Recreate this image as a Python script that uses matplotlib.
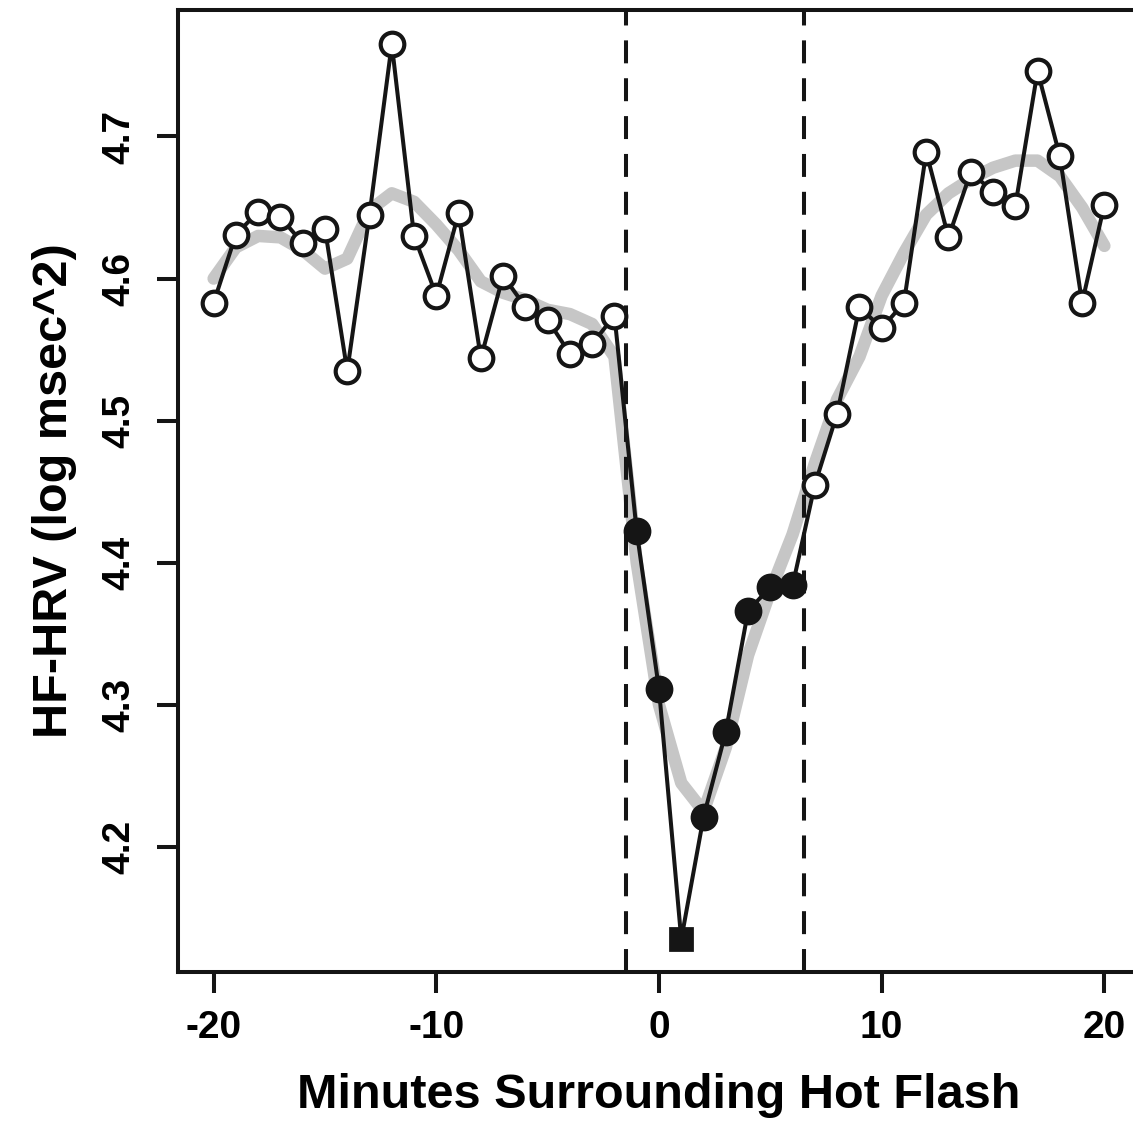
import matplotlib
matplotlib.use("Agg")
import matplotlib.pyplot as plt

# minutes around the hot flash onset
minutes = list(range(-20, 21))

# mean HF-HRV per minute
hrv = [4.583, 4.631, 4.647, 4.643, 4.625, 4.635, 4.535, 4.645, 4.765, 4.630,
       4.588, 4.646, 4.544, 4.602, 4.580, 4.571, 4.547, 4.554, 4.574, 4.422,
       4.311, 4.135, 4.221, 4.281, 4.366, 4.383, 4.384, 4.455, 4.505, 4.580,
       4.565, 4.583, 4.689, 4.629, 4.675, 4.661, 4.651, 4.746, 4.686, 4.583,
       4.652]

# smoothed trend (grey)
smooth = [4.600, 4.622, 4.630, 4.629, 4.620, 4.607, 4.614, 4.648, 4.660, 4.654,
          4.638, 4.620, 4.598, 4.590, 4.585, 4.578, 4.575, 4.568, 4.545, 4.400,
          4.300, 4.245, 4.225, 4.270, 4.335, 4.380, 4.420, 4.470, 4.515, 4.545,
          4.588, 4.618, 4.645, 4.660, 4.670, 4.678, 4.683, 4.683, 4.672, 4.650,
          4.623]

# hot flash window (filled points)
flash_start = -1
flash_end = 6
window_lines = [-1.5, 6.5]

x_ticks = [-20, -10, 0, 10, 20]
y_ticks = [4.2, 4.3, 4.4, 4.5, 4.6, 4.7]

plt.rcParams['font.family'] = ['Liberation Sans', 'DejaVu Sans']
plt.rcParams['font.weight'] = 'bold'

W, H = 1133, 1136
fig = plt.figure(figsize=(W / 100, H / 100), dpi=100)
ax = fig.add_axes([178 / W, (H - 972) / H, (1140 - 178) / W, (972 - 10) / H])

ink = '#151515'

ax.plot(minutes, smooth, color='#c6c6c6', lw=9, solid_capstyle='round',
        solid_joinstyle='round', zorder=1)

for v in window_lines:
    ax.axvline(v, color=ink, lw=2.9, dashes=(5.7, 3.7), zorder=2)

ax.plot(minutes, hrv, color=ink, lw=2.9, zorder=3)

inside = [i for i, m in enumerate(minutes) if flash_start <= m <= flash_end]
outside = [i for i, m in enumerate(minutes) if not (flash_start <= m <= flash_end)]
lowest = min(inside, key=lambda i: hrv[i])

ax.plot([minutes[i] for i in outside], [hrv[i] for i in outside], 'o', ls='none',
        ms=17, mfc='white', mec=ink, mew=3, zorder=4)
filled = [i for i in inside if i != lowest]
ax.plot([minutes[i] for i in filled], [hrv[i] for i in filled], 'o', ls='none',
        ms=18, mfc=ink, mec=ink, mew=2, zorder=4)
ax.plot([minutes[lowest]], [hrv[lowest]], 's', ls='none',
        ms=16, mfc=ink, mec=ink, mew=2, zorder=4)

ax.set_xlim(-21.6, 21.6)
ax.set_ylim(4.112, 4.789)
ax.set_xticks(x_ticks)
ax.set_xticklabels([str(t) for t in x_ticks])
ax.set_yticks(y_ticks)
ax.set_yticklabels([f'{t:.1f}' for t in y_ticks])

for s in ax.spines.values():
    s.set_linewidth(2.9)
    s.set_color(ink)

ax.tick_params(axis='both', length=15, width=2.9, color=ink, labelsize=28)
ax.tick_params(axis='x', pad=12)
ax.tick_params(axis='y', pad=14, labelrotation=90)
for lbl in ax.get_yticklabels():
    lbl.set_va('center')

ax.set_xlabel('Minutes Surrounding Hot Flash', fontsize=35, fontweight='bold', labelpad=20)
ax.set_ylabel('HF-HRV (log msec^2)', fontsize=35, fontweight='bold', labelpad=18)

fig.savefig('out.png', dpi=100)
